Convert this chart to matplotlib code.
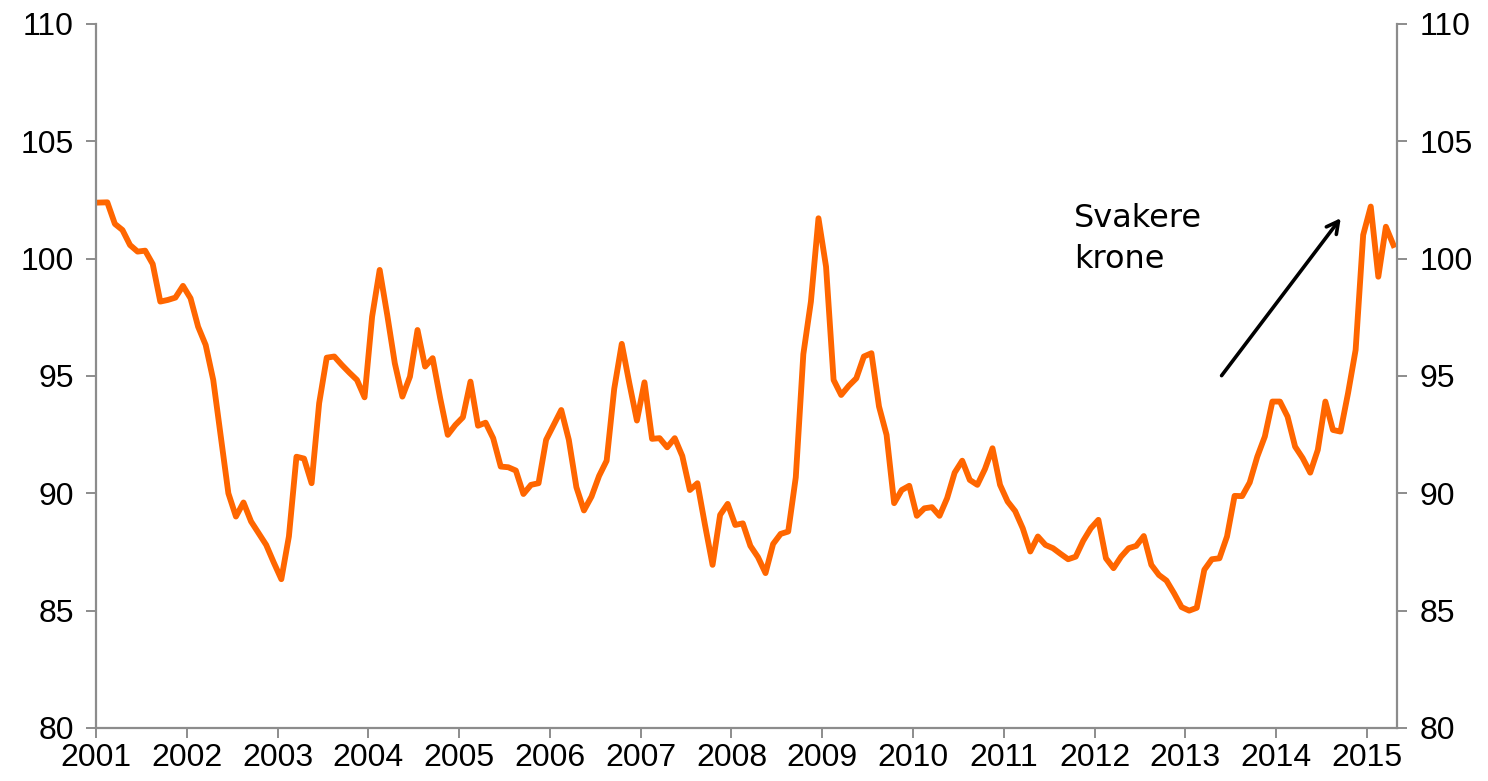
import matplotlib
matplotlib.use('Agg')
import matplotlib.pyplot as plt
import numpy as np

# månedlige verdier, jan 2001 - apr 2015
v2001 = [102.39, 102.40, 101.48, 101.22, 100.58, 100.30, 100.34, 99.77, 98.17, 98.24, 98.34, 98.84]
v2002 = [98.31, 97.10, 96.32, 94.83, 92.40, 90.00, 89.01, 89.61, 88.80, 88.30, 87.80, 87.05]
v2003 = [86.34, 88.16, 91.56, 91.48, 90.43, 93.84, 95.78, 95.83, 95.47, 95.14, 94.83, 94.09]
v2004 = [97.53, 99.52, 97.60, 95.54, 94.12, 94.97, 96.96, 95.40, 95.76, 94.05, 92.49, 92.91]
v2005 = [93.24, 94.76, 92.88, 93.01, 92.35, 91.14, 91.11, 90.97, 89.97, 90.36, 90.43, 92.28]
v2006 = [92.91, 93.55, 92.28, 90.26, 89.27, 89.86, 90.74, 91.39, 94.45, 96.37, 94.69, 93.10]
v2007 = [94.73, 92.32, 92.35, 91.96, 92.35, 91.59, 90.14, 90.43, 88.65, 86.95, 89.08, 89.55]
v2008 = [88.65, 88.72, 87.76, 87.28, 86.60, 87.84, 88.27, 88.37, 90.68, 95.93, 98.17, 101.72]
v2009 = [99.66, 94.83, 94.19, 94.58, 94.90, 95.83, 95.97, 93.70, 92.49, 89.58, 90.14, 90.32]
v2010 = [89.04, 89.36, 89.41, 89.04, 89.79, 90.88, 91.39, 90.57, 90.36, 91.03, 91.92, 90.36]
v2011 = [89.65, 89.24, 88.51, 87.52, 88.16, 87.80, 87.66, 87.42, 87.19, 87.30, 87.98, 88.51]
v2012 = [88.87, 87.23, 86.81, 87.30, 87.66, 87.76, 88.18, 86.95, 86.52, 86.28, 85.74, 85.15]
v2013 = [85.00, 85.12, 86.74, 87.19, 87.23, 88.16, 89.89, 89.88, 90.46, 91.56, 92.42, 93.91]
v2014 = [93.91, 93.27, 91.99, 91.50, 90.88, 91.85, 93.91, 92.70, 92.63, 94.27, 96.11, 101.01]
v2015 = [102.22, 99.23, 101.36, 100.58]

values = (v2001 + v2002 + v2003 + v2004 + v2005 + v2006 + v2007 + v2008 +
          v2009 + v2010 + v2011 + v2012 + v2013 + v2014 + v2015)
years = list(range(2001, 2016))
yticks = [80, 85, 90, 95, 100, 105, 110]

n = len(values)
x = 2001 + (np.arange(n) + 0.5) / 12

plt.rcParams['font.family'] = ['Liberation Sans', 'DejaVu Sans']

fig = plt.figure(figsize=(14.88, 7.81), dpi=100)
ax = fig.add_axes([0.0645, 0.0679, 0.8745, 0.9014])

ax.plot(x, values, color='#FF6600', linewidth=4.2, solid_joinstyle='round')

ax.set_xlim(2001, 2001 + n / 12)
ax.set_ylim(80, 110)
ax.set_xticks(years)
ax.set_xticklabels([str(y) for y in years])
ax.set_yticks(yticks)
ax.set_yticklabels([str(t) for t in yticks])

for s in ['left', 'right', 'bottom']:
    ax.spines[s].set_color('#8c8c8c')
    ax.spines[s].set_linewidth(1.6)
ax.spines['top'].set_visible(False)

ax.tick_params(axis='both', direction='out', length=7, width=1.4, color='#8c8c8c',
               labelsize=23, labelcolor='black')
ax.tick_params(axis='y', left=True, right=True, labelleft=True, labelright=True, pad=9)
ax.tick_params(axis='x', pad=4)

ax.text(2011.77, 102.35, 'Svakere\nkrone', fontsize=23, family='DejaVu Sans',
        va='top', ha='left', linespacing=1.4)
ax.annotate('', xy=(2014.73, 101.82), xytext=(2013.38, 94.92),
            arrowprops=dict(arrowstyle='->,head_length=0.85,head_width=0.45',
                            color='black', lw=2.6))

fig.savefig('out.png', dpi=100)
